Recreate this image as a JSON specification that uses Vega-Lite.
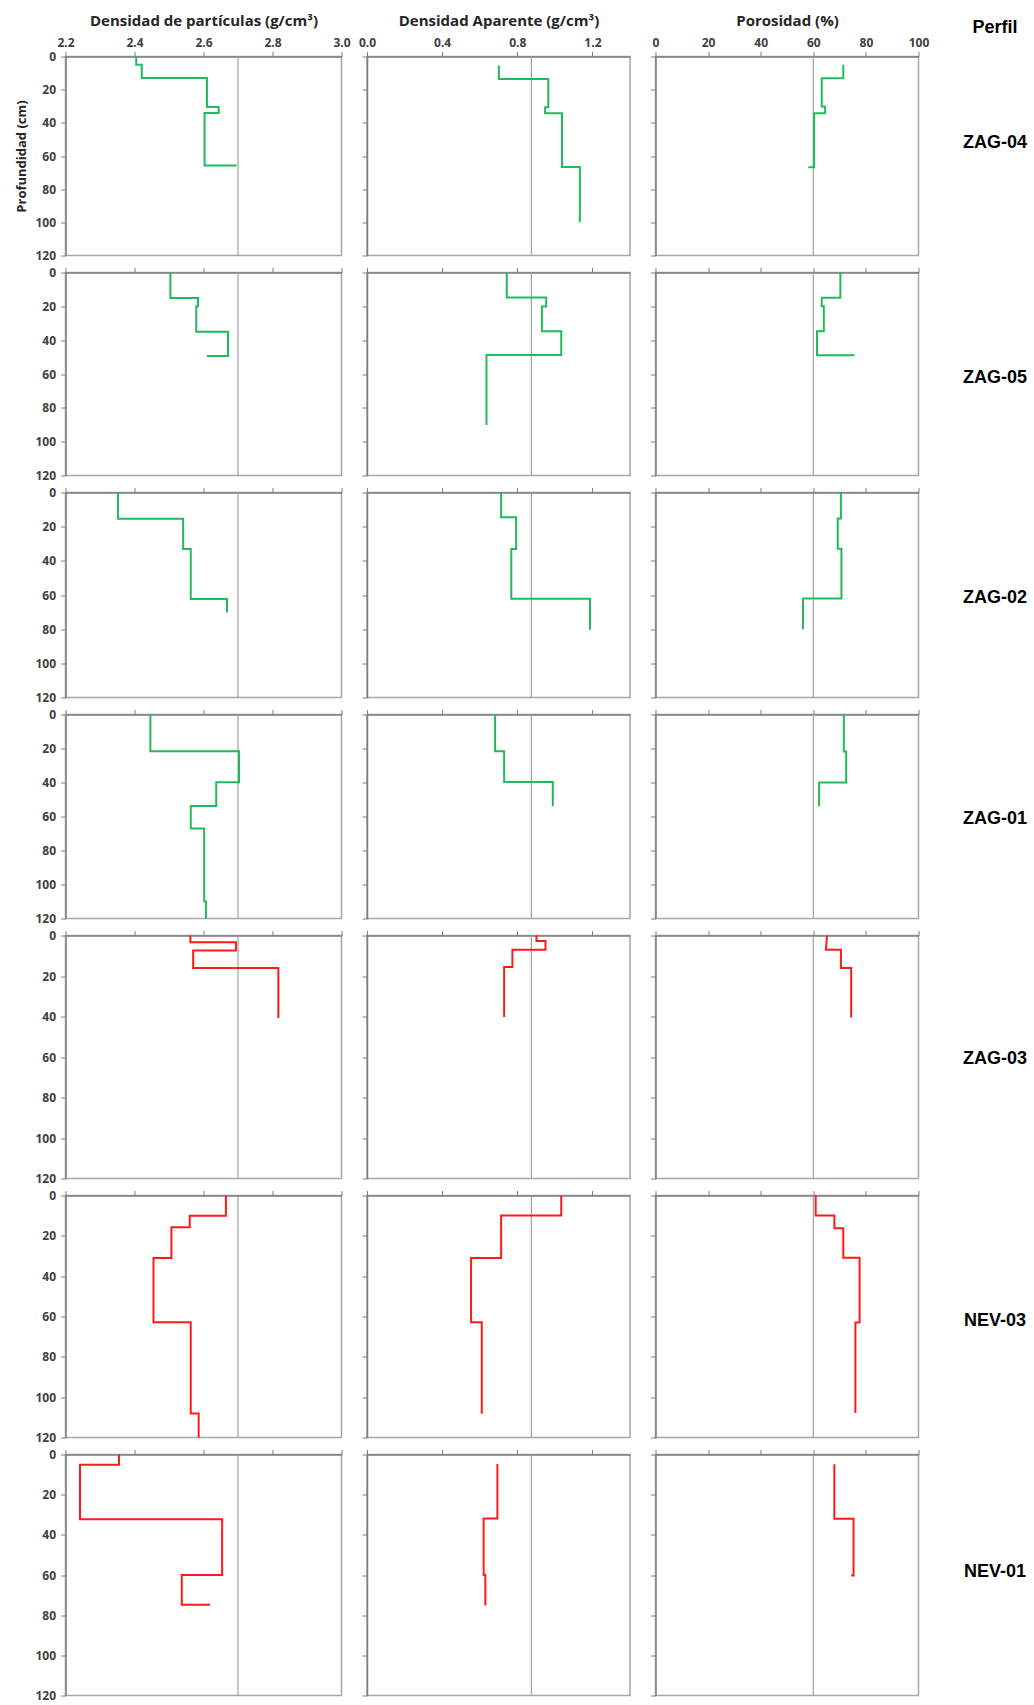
{
  "$schema": "https://vega.github.io/schema/vega-lite/v6.json",
  "padding": {"top": 12.5, "left": 14.5, "right": 0, "bottom": 0},
  "autosize": {"type": "pad"},
  "datasets": {
    "perfiles": [
      {"p":"ZAG-04","v":"dp","i":1,"d":0,"x":2.405},{"p":"ZAG-04","v":"dp","i":2,"d":5,"x":2.405},{"p":"ZAG-04","v":"dp","i":3,"d":5,"x":2.421},{"p":"ZAG-04","v":"dp","i":4,"d":13,"x":2.421},{"p":"ZAG-04","v":"dp","i":5,"d":13,"x":2.61},{"p":"ZAG-04","v":"dp","i":6,"d":30.4,"x":2.61},{"p":"ZAG-04","v":"dp","i":7,"d":30.4,"x":2.644},{"p":"ZAG-04","v":"dp","i":8,"d":34,"x":2.644},{"p":"ZAG-04","v":"dp","i":9,"d":34,"x":2.603},{"p":"ZAG-04","v":"dp","i":10,"d":65.7,"x":2.603},{"p":"ZAG-04","v":"dp","i":11,"d":65.7,"x":2.696},
      {"p":"ZAG-04","v":"da","i":1,"d":5.4,"x":0.702},{"p":"ZAG-04","v":"da","i":2,"d":13.5,"x":0.702},{"p":"ZAG-04","v":"da","i":3,"d":13.5,"x":0.965},{"p":"ZAG-04","v":"da","i":4,"d":30.6,"x":0.965},{"p":"ZAG-04","v":"da","i":5,"d":30.6,"x":0.948},{"p":"ZAG-04","v":"da","i":6,"d":34.2,"x":0.948},{"p":"ZAG-04","v":"da","i":7,"d":34.2,"x":1.038},{"p":"ZAG-04","v":"da","i":8,"d":66.6,"x":1.038},{"p":"ZAG-04","v":"da","i":9,"d":66.6,"x":1.133},{"p":"ZAG-04","v":"da","i":10,"d":100,"x":1.133},
      {"p":"ZAG-04","v":"po","i":1,"d":5,"x":71.4},{"p":"ZAG-04","v":"po","i":2,"d":13.1,"x":71.4},{"p":"ZAG-04","v":"po","i":3,"d":13.1,"x":63.2},{"p":"ZAG-04","v":"po","i":4,"d":30.2,"x":63.2},{"p":"ZAG-04","v":"po","i":5,"d":30.2,"x":64.5},{"p":"ZAG-04","v":"po","i":6,"d":34.2,"x":64.5},{"p":"ZAG-04","v":"po","i":7,"d":34.2,"x":60.3},{"p":"ZAG-04","v":"po","i":8,"d":66.8,"x":60.3},{"p":"ZAG-04","v":"po","i":9,"d":66.8,"x":58.1},
      {"p":"ZAG-05","v":"dp","i":1,"d":0,"x":2.504},{"p":"ZAG-05","v":"dp","i":2,"d":15.1,"x":2.504},{"p":"ZAG-05","v":"dp","i":3,"d":15.1,"x":2.584},{"p":"ZAG-05","v":"dp","i":4,"d":20,"x":2.584},{"p":"ZAG-05","v":"dp","i":5,"d":20,"x":2.579},{"p":"ZAG-05","v":"dp","i":6,"d":35,"x":2.579},{"p":"ZAG-05","v":"dp","i":7,"d":35,"x":2.671},{"p":"ZAG-05","v":"dp","i":8,"d":49.4,"x":2.671},{"p":"ZAG-05","v":"dp","i":9,"d":49.4,"x":2.61},
      {"p":"ZAG-05","v":"da","i":1,"d":0,"x":0.744},{"p":"ZAG-05","v":"da","i":2,"d":14.8,"x":0.744},{"p":"ZAG-05","v":"da","i":3,"d":14.8,"x":0.954},{"p":"ZAG-05","v":"da","i":4,"d":20.1,"x":0.954},{"p":"ZAG-05","v":"da","i":5,"d":20.1,"x":0.931},{"p":"ZAG-05","v":"da","i":6,"d":34.8,"x":0.931},{"p":"ZAG-05","v":"da","i":7,"d":34.8,"x":1.034},{"p":"ZAG-05","v":"da","i":8,"d":48.8,"x":1.034},{"p":"ZAG-05","v":"da","i":9,"d":48.8,"x":0.636},{"p":"ZAG-05","v":"da","i":10,"d":90.2,"x":0.636},
      {"p":"ZAG-05","v":"po","i":1,"d":0,"x":70.3},{"p":"ZAG-05","v":"po","i":2,"d":14.9,"x":70.3},{"p":"ZAG-05","v":"po","i":3,"d":14.9,"x":63.2},{"p":"ZAG-05","v":"po","i":4,"d":19.9,"x":63.2},{"p":"ZAG-05","v":"po","i":5,"d":19.9,"x":64.0},{"p":"ZAG-05","v":"po","i":6,"d":34.8,"x":64.0},{"p":"ZAG-05","v":"po","i":7,"d":34.8,"x":61.4},{"p":"ZAG-05","v":"po","i":8,"d":48.9,"x":61.4},{"p":"ZAG-05","v":"po","i":9,"d":48.9,"x":75.7},
      {"p":"ZAG-02","v":"dp","i":1,"d":0,"x":2.352},{"p":"ZAG-02","v":"dp","i":2,"d":15.4,"x":2.352},{"p":"ZAG-02","v":"dp","i":3,"d":15.4,"x":2.541},{"p":"ZAG-02","v":"dp","i":4,"d":33,"x":2.541},{"p":"ZAG-02","v":"dp","i":5,"d":33,"x":2.563},{"p":"ZAG-02","v":"dp","i":6,"d":62.4,"x":2.563},{"p":"ZAG-02","v":"dp","i":7,"d":62.4,"x":2.668},{"p":"ZAG-02","v":"dp","i":8,"d":70.2,"x":2.668},
      {"p":"ZAG-02","v":"da","i":1,"d":0,"x":0.714},{"p":"ZAG-02","v":"da","i":2,"d":14.5,"x":0.714},{"p":"ZAG-02","v":"da","i":3,"d":14.5,"x":0.794},{"p":"ZAG-02","v":"da","i":4,"d":33,"x":0.794},{"p":"ZAG-02","v":"da","i":5,"d":33,"x":0.768},{"p":"ZAG-02","v":"da","i":6,"d":62.2,"x":0.768},{"p":"ZAG-02","v":"da","i":7,"d":62.2,"x":1.187},{"p":"ZAG-02","v":"da","i":8,"d":80.4,"x":1.187},
      {"p":"ZAG-02","v":"po","i":1,"d":0,"x":70.5},{"p":"ZAG-02","v":"po","i":2,"d":15.2,"x":70.5},{"p":"ZAG-02","v":"po","i":3,"d":15.2,"x":69.3},{"p":"ZAG-02","v":"po","i":4,"d":32.9,"x":69.3},{"p":"ZAG-02","v":"po","i":5,"d":32.9,"x":70.7},{"p":"ZAG-02","v":"po","i":6,"d":62,"x":70.7},{"p":"ZAG-02","v":"po","i":7,"d":62,"x":56.1},{"p":"ZAG-02","v":"po","i":8,"d":80.1,"x":56.1},
      {"p":"ZAG-01","v":"dp","i":1,"d":0,"x":2.446},{"p":"ZAG-01","v":"dp","i":2,"d":21.6,"x":2.446},{"p":"ZAG-01","v":"dp","i":3,"d":21.6,"x":2.703},{"p":"ZAG-01","v":"dp","i":4,"d":39.9,"x":2.703},{"p":"ZAG-01","v":"dp","i":5,"d":39.9,"x":2.637},{"p":"ZAG-01","v":"dp","i":6,"d":53.8,"x":2.637},{"p":"ZAG-01","v":"dp","i":7,"d":53.8,"x":2.563},{"p":"ZAG-01","v":"dp","i":8,"d":67,"x":2.563},{"p":"ZAG-01","v":"dp","i":9,"d":67,"x":2.602},{"p":"ZAG-01","v":"dp","i":10,"d":110,"x":2.602},{"p":"ZAG-01","v":"dp","i":11,"d":110,"x":2.607},{"p":"ZAG-01","v":"dp","i":12,"d":120,"x":2.607},
      {"p":"ZAG-01","v":"da","i":1,"d":0,"x":0.682},{"p":"ZAG-01","v":"da","i":2,"d":21.6,"x":0.682},{"p":"ZAG-01","v":"da","i":3,"d":21.6,"x":0.73},{"p":"ZAG-01","v":"da","i":4,"d":39.7,"x":0.73},{"p":"ZAG-01","v":"da","i":5,"d":39.7,"x":0.989},{"p":"ZAG-01","v":"da","i":6,"d":54,"x":0.989},
      {"p":"ZAG-01","v":"po","i":1,"d":0,"x":71.6},{"p":"ZAG-01","v":"po","i":2,"d":21.7,"x":71.6},{"p":"ZAG-01","v":"po","i":3,"d":21.7,"x":72.5},{"p":"ZAG-01","v":"po","i":4,"d":40,"x":72.5},{"p":"ZAG-01","v":"po","i":5,"d":40,"x":62.2},{"p":"ZAG-01","v":"po","i":6,"d":54,"x":62.2},
      {"p":"ZAG-03","v":"dp","i":1,"d":0,"x":2.562},{"p":"ZAG-03","v":"dp","i":2,"d":3.3,"x":2.562},{"p":"ZAG-03","v":"dp","i":3,"d":3.3,"x":2.694},{"p":"ZAG-03","v":"dp","i":4,"d":7.4,"x":2.694},{"p":"ZAG-03","v":"dp","i":5,"d":7.4,"x":2.57},{"p":"ZAG-03","v":"dp","i":6,"d":16.1,"x":2.57},{"p":"ZAG-03","v":"dp","i":7,"d":16.1,"x":2.817},{"p":"ZAG-03","v":"dp","i":8,"d":40.7,"x":2.817},
      {"p":"ZAG-03","v":"da","i":1,"d":0,"x":0.902},{"p":"ZAG-03","v":"da","i":2,"d":2.7,"x":0.902},{"p":"ZAG-03","v":"da","i":3,"d":2.7,"x":0.95},{"p":"ZAG-03","v":"da","i":4,"d":7,"x":0.95},{"p":"ZAG-03","v":"da","i":5,"d":7,"x":0.774},{"p":"ZAG-03","v":"da","i":6,"d":15.6,"x":0.774},{"p":"ZAG-03","v":"da","i":7,"d":15.6,"x":0.73},{"p":"ZAG-03","v":"da","i":8,"d":40.2,"x":0.73},
      {"p":"ZAG-03","v":"po","i":1,"d":0,"x":65.2},{"p":"ZAG-03","v":"po","i":2,"d":7,"x":64.8},{"p":"ZAG-03","v":"po","i":3,"d":7,"x":70.5},{"p":"ZAG-03","v":"po","i":4,"d":16.1,"x":70.5},{"p":"ZAG-03","v":"po","i":5,"d":16.1,"x":74.4},{"p":"ZAG-03","v":"po","i":6,"d":40.5,"x":74.4},
      {"p":"NEV-03","v":"dp","i":1,"d":0,"x":2.665},{"p":"NEV-03","v":"dp","i":2,"d":10,"x":2.665},{"p":"NEV-03","v":"dp","i":3,"d":10,"x":2.56},{"p":"NEV-03","v":"dp","i":4,"d":15.8,"x":2.56},{"p":"NEV-03","v":"dp","i":5,"d":15.8,"x":2.507},{"p":"NEV-03","v":"dp","i":6,"d":31,"x":2.507},{"p":"NEV-03","v":"dp","i":7,"d":31,"x":2.455},{"p":"NEV-03","v":"dp","i":8,"d":62.8,"x":2.455},{"p":"NEV-03","v":"dp","i":9,"d":62.8,"x":2.563},{"p":"NEV-03","v":"dp","i":10,"d":108.1,"x":2.563},{"p":"NEV-03","v":"dp","i":11,"d":108.1,"x":2.586},{"p":"NEV-03","v":"dp","i":12,"d":120,"x":2.586},
      {"p":"NEV-03","v":"da","i":1,"d":0,"x":1.034},{"p":"NEV-03","v":"da","i":2,"d":9.9,"x":1.034},{"p":"NEV-03","v":"da","i":3,"d":9.9,"x":0.714},{"p":"NEV-03","v":"da","i":4,"d":31,"x":0.714},{"p":"NEV-03","v":"da","i":5,"d":31,"x":0.554},{"p":"NEV-03","v":"da","i":6,"d":62.9,"x":0.554},{"p":"NEV-03","v":"da","i":7,"d":62.9,"x":0.611},{"p":"NEV-03","v":"da","i":8,"d":108.2,"x":0.611},
      {"p":"NEV-03","v":"po","i":1,"d":0,"x":60.9},{"p":"NEV-03","v":"po","i":2,"d":9.9,"x":60.9},{"p":"NEV-03","v":"po","i":3,"d":9.9,"x":68},{"p":"NEV-03","v":"po","i":4,"d":16.2,"x":68},{"p":"NEV-03","v":"po","i":5,"d":16.2,"x":71.4},{"p":"NEV-03","v":"po","i":6,"d":30.9,"x":71.4},{"p":"NEV-03","v":"po","i":7,"d":30.9,"x":77.6},{"p":"NEV-03","v":"po","i":8,"d":63,"x":77.6},{"p":"NEV-03","v":"po","i":9,"d":63,"x":76},{"p":"NEV-03","v":"po","i":10,"d":107.9,"x":76},
      {"p":"NEV-01","v":"dp","i":1,"d":0,"x":2.355},{"p":"NEV-01","v":"dp","i":2,"d":5.1,"x":2.355},{"p":"NEV-01","v":"dp","i":3,"d":5.1,"x":2.242},{"p":"NEV-01","v":"dp","i":4,"d":32.2,"x":2.242},{"p":"NEV-01","v":"dp","i":5,"d":32.2,"x":2.654},{"p":"NEV-01","v":"dp","i":6,"d":60,"x":2.654},{"p":"NEV-01","v":"dp","i":7,"d":60,"x":2.537},{"p":"NEV-01","v":"dp","i":8,"d":74.8,"x":2.537},{"p":"NEV-01","v":"dp","i":9,"d":74.8,"x":2.619},
      {"p":"NEV-01","v":"da","i":1,"d":4.7,"x":0.694},{"p":"NEV-01","v":"da","i":2,"d":31.9,"x":0.694},{"p":"NEV-01","v":"da","i":3,"d":31.9,"x":0.621},{"p":"NEV-01","v":"da","i":4,"d":60,"x":0.621},{"p":"NEV-01","v":"da","i":5,"d":60,"x":0.63},{"p":"NEV-01","v":"da","i":6,"d":75.2,"x":0.63},
      {"p":"NEV-01","v":"po","i":1,"d":4.8,"x":68},{"p":"NEV-01","v":"po","i":2,"d":32,"x":68},{"p":"NEV-01","v":"po","i":3,"d":32,"x":75.3},{"p":"NEV-01","v":"po","i":4,"d":60.3,"x":75.3},{"p":"NEV-01","v":"po","i":5,"d":60.3,"x":74.4}
    ]
  },
  "columns": 4,
  "bounds": "flush",
  "align": "each",
  "spacing": {"row": 17, "column": 25.5},
  "concat": [
    {"width": 276, "height": 199, "layer": [
      {"data": {"values": [{}]}, "mark": {"type": "rule", "color": "#a0a0a0", "strokeWidth": 1.2}, "encoding": {"x": {"datum": 2.7}}},
      {"data": {"name": "perfiles"}, "transform": [{"filter": "datum.p == 'ZAG-04' && datum.v == 'dp'"}], "mark": {"type": "line", "color": "#20bb5a"},
       "encoding": {"x": {"field": "x", "type": "quantitative", "scale": {"domain": [2.2, 3.0], "nice": false, "zero": false}, "axis": {"orient": "top", "title": "Densidad de partículas (g/cm³)", "values": [2.2, 2.4, 2.6, 2.8, 3.0], "format": ".1f"}},
                    "y": {"field": "d", "type": "quantitative", "scale": {"domain": [0, 120], "nice": false, "reverse": true}, "axis": {"title": "Profundidad (cm)", "labelOverlap": false, "values": [0, 20, 40, 60, 80, 100, 120]}},
                    "order": {"field": "i"}}}]},
    {"width": 263, "height": 199, "layer": [
      {"data": {"values": [{}]}, "mark": {"type": "rule", "color": "#a0a0a0", "strokeWidth": 1.2}, "encoding": {"x": {"datum": 0.875}}},
      {"data": {"name": "perfiles"}, "transform": [{"filter": "datum.p == 'ZAG-04' && datum.v == 'da'"}], "mark": {"type": "line", "color": "#20bb5a"},
       "encoding": {"x": {"field": "x", "type": "quantitative", "scale": {"domain": [0, 1.4], "nice": false}, "axis": {"orient": "top", "title": "Densidad Aparente (g/cm³)", "values": [0, 0.4, 0.8, 1.2], "format": ".1f"}},
                    "y": {"field": "d", "type": "quantitative", "scale": {"domain": [0, 120], "nice": false, "reverse": true}, "axis": {"title": null, "labels": false, "values": [0, 20, 40, 60, 80, 100, 120], "minExtent": 0}},
                    "order": {"field": "i"}}}]},
    {"width": 263, "height": 199, "layer": [
      {"data": {"values": [{}]}, "mark": {"type": "rule", "color": "#a0a0a0", "strokeWidth": 1.2}, "encoding": {"x": {"datum": 60}}},
      {"data": {"name": "perfiles"}, "transform": [{"filter": "datum.p == 'ZAG-04' && datum.v == 'po'"}], "mark": {"type": "line", "color": "#20bb5a"},
       "encoding": {"x": {"field": "x", "type": "quantitative", "scale": {"domain": [0, 100], "nice": false}, "axis": {"orient": "top", "title": "Porosidad (%)", "values": [0, 20, 40, 60, 80, 100]}},
                    "y": {"field": "d", "type": "quantitative", "scale": {"domain": [0, 120], "nice": false, "reverse": true}, "axis": {"title": null, "labels": false, "values": [0, 20, 40, 60, 80, 100, 120], "minExtent": 0}},
                    "order": {"field": "i"}}}]},
    {"width": 88, "height": 199, "view": {"stroke": null},
     "title": {"text": "Perfil", "font": "Liberation Sans", "fontSize": 18, "fontWeight": "bold", "color": "#000000", "offset": 20, "dx": 7},
     "data": {"values": [{"perfil": "ZAG-04"}]}, "mark": {"type": "text", "font": "Liberation Sans", "fontSize": 18, "fontWeight": "bold", "color": "#000000", "dx": 7, "dy": -13}, "encoding": {"text": {"field": "perfil"}}},

    {"width": 276, "height": 203, "layer": [
      {"data": {"values": [{}]}, "mark": {"type": "rule", "color": "#a0a0a0", "strokeWidth": 1.2}, "encoding": {"x": {"datum": 2.7}}},
      {"data": {"name": "perfiles"}, "transform": [{"filter": "datum.p == 'ZAG-05' && datum.v == 'dp'"}], "mark": {"type": "line", "color": "#20bb5a"},
       "encoding": {"x": {"field": "x", "type": "quantitative", "scale": {"domain": [2.2, 3.0], "nice": false, "zero": false}, "axis": {"orient": "top", "title": null, "labels": false, "values": [2.2, 2.4, 2.6, 2.8, 3.0]}},
                    "y": {"field": "d", "type": "quantitative", "scale": {"domain": [0, 120], "nice": false, "reverse": true}, "axis": {"title": null, "labelOverlap": false, "values": [0, 20, 40, 60, 80, 100, 120]}},
                    "order": {"field": "i"}}}]},
    {"width": 263, "height": 203, "layer": [
      {"data": {"values": [{}]}, "mark": {"type": "rule", "color": "#a0a0a0", "strokeWidth": 1.2}, "encoding": {"x": {"datum": 0.875}}},
      {"data": {"name": "perfiles"}, "transform": [{"filter": "datum.p == 'ZAG-05' && datum.v == 'da'"}], "mark": {"type": "line", "color": "#20bb5a"},
       "encoding": {"x": {"field": "x", "type": "quantitative", "scale": {"domain": [0, 1.4], "nice": false}, "axis": {"orient": "top", "title": null, "labels": false, "values": [0, 0.4, 0.8, 1.2]}},
                    "y": {"field": "d", "type": "quantitative", "scale": {"domain": [0, 120], "nice": false, "reverse": true}, "axis": {"title": null, "labels": false, "values": [0, 20, 40, 60, 80, 100, 120], "minExtent": 0}},
                    "order": {"field": "i"}}}]},
    {"width": 263, "height": 203, "layer": [
      {"data": {"values": [{}]}, "mark": {"type": "rule", "color": "#a0a0a0", "strokeWidth": 1.2}, "encoding": {"x": {"datum": 60}}},
      {"data": {"name": "perfiles"}, "transform": [{"filter": "datum.p == 'ZAG-05' && datum.v == 'po'"}], "mark": {"type": "line", "color": "#20bb5a"},
       "encoding": {"x": {"field": "x", "type": "quantitative", "scale": {"domain": [0, 100], "nice": false}, "axis": {"orient": "top", "title": null, "labels": false, "values": [0, 20, 40, 60, 80, 100]}},
                    "y": {"field": "d", "type": "quantitative", "scale": {"domain": [0, 120], "nice": false, "reverse": true}, "axis": {"title": null, "labels": false, "values": [0, 20, 40, 60, 80, 100, 120], "minExtent": 0}},
                    "order": {"field": "i"}}}]},
    {"width": 88, "height": 203, "view": {"stroke": null},
     "data": {"values": [{"perfil": "ZAG-05"}]}, "mark": {"type": "text", "font": "Liberation Sans", "fontSize": 18, "fontWeight": "bold", "color": "#000000", "dx": 7, "dy": 4}, "encoding": {"text": {"field": "perfil"}}},

    {"width": 276, "height": 205, "layer": [
      {"data": {"values": [{}]}, "mark": {"type": "rule", "color": "#a0a0a0", "strokeWidth": 1.2}, "encoding": {"x": {"datum": 2.7}}},
      {"data": {"name": "perfiles"}, "transform": [{"filter": "datum.p == 'ZAG-02' && datum.v == 'dp'"}], "mark": {"type": "line", "color": "#20bb5a"},
       "encoding": {"x": {"field": "x", "type": "quantitative", "scale": {"domain": [2.2, 3.0], "nice": false, "zero": false}, "axis": {"orient": "top", "title": null, "labels": false, "values": [2.2, 2.4, 2.6, 2.8, 3.0]}},
                    "y": {"field": "d", "type": "quantitative", "scale": {"domain": [0, 120], "nice": false, "reverse": true}, "axis": {"title": null, "labelOverlap": false, "values": [0, 20, 40, 60, 80, 100, 120]}},
                    "order": {"field": "i"}}}]},
    {"width": 263, "height": 205, "layer": [
      {"data": {"values": [{}]}, "mark": {"type": "rule", "color": "#a0a0a0", "strokeWidth": 1.2}, "encoding": {"x": {"datum": 0.875}}},
      {"data": {"name": "perfiles"}, "transform": [{"filter": "datum.p == 'ZAG-02' && datum.v == 'da'"}], "mark": {"type": "line", "color": "#20bb5a"},
       "encoding": {"x": {"field": "x", "type": "quantitative", "scale": {"domain": [0, 1.4], "nice": false}, "axis": {"orient": "top", "title": null, "labels": false, "values": [0, 0.4, 0.8, 1.2]}},
                    "y": {"field": "d", "type": "quantitative", "scale": {"domain": [0, 120], "nice": false, "reverse": true}, "axis": {"title": null, "labels": false, "values": [0, 20, 40, 60, 80, 100, 120], "minExtent": 0}},
                    "order": {"field": "i"}}}]},
    {"width": 263, "height": 205, "layer": [
      {"data": {"values": [{}]}, "mark": {"type": "rule", "color": "#a0a0a0", "strokeWidth": 1.2}, "encoding": {"x": {"datum": 60}}},
      {"data": {"name": "perfiles"}, "transform": [{"filter": "datum.p == 'ZAG-02' && datum.v == 'po'"}], "mark": {"type": "line", "color": "#20bb5a"},
       "encoding": {"x": {"field": "x", "type": "quantitative", "scale": {"domain": [0, 100], "nice": false}, "axis": {"orient": "top", "title": null, "labels": false, "values": [0, 20, 40, 60, 80, 100]}},
                    "y": {"field": "d", "type": "quantitative", "scale": {"domain": [0, 120], "nice": false, "reverse": true}, "axis": {"title": null, "labels": false, "values": [0, 20, 40, 60, 80, 100, 120], "minExtent": 0}},
                    "order": {"field": "i"}}}]},
    {"width": 88, "height": 205, "view": {"stroke": null},
     "data": {"values": [{"perfil": "ZAG-02"}]}, "mark": {"type": "text", "font": "Liberation Sans", "fontSize": 18, "fontWeight": "bold", "color": "#000000", "dx": 7, "dy": 3}, "encoding": {"text": {"field": "perfil"}}},

    {"width": 276, "height": 204, "layer": [
      {"data": {"values": [{}]}, "mark": {"type": "rule", "color": "#a0a0a0", "strokeWidth": 1.2}, "encoding": {"x": {"datum": 2.7}}},
      {"data": {"name": "perfiles"}, "transform": [{"filter": "datum.p == 'ZAG-01' && datum.v == 'dp'"}], "mark": {"type": "line", "color": "#20bb5a"},
       "encoding": {"x": {"field": "x", "type": "quantitative", "scale": {"domain": [2.2, 3.0], "nice": false, "zero": false}, "axis": {"orient": "top", "title": null, "labels": false, "values": [2.2, 2.4, 2.6, 2.8, 3.0]}},
                    "y": {"field": "d", "type": "quantitative", "scale": {"domain": [0, 120], "nice": false, "reverse": true}, "axis": {"title": null, "labelOverlap": false, "values": [0, 20, 40, 60, 80, 100, 120]}},
                    "order": {"field": "i"}}}]},
    {"width": 263, "height": 204, "layer": [
      {"data": {"values": [{}]}, "mark": {"type": "rule", "color": "#a0a0a0", "strokeWidth": 1.2}, "encoding": {"x": {"datum": 0.875}}},
      {"data": {"name": "perfiles"}, "transform": [{"filter": "datum.p == 'ZAG-01' && datum.v == 'da'"}], "mark": {"type": "line", "color": "#20bb5a"},
       "encoding": {"x": {"field": "x", "type": "quantitative", "scale": {"domain": [0, 1.4], "nice": false}, "axis": {"orient": "top", "title": null, "labels": false, "values": [0, 0.4, 0.8, 1.2]}},
                    "y": {"field": "d", "type": "quantitative", "scale": {"domain": [0, 120], "nice": false, "reverse": true}, "axis": {"title": null, "labels": false, "values": [0, 20, 40, 60, 80, 100, 120], "minExtent": 0}},
                    "order": {"field": "i"}}}]},
    {"width": 263, "height": 204, "layer": [
      {"data": {"values": [{}]}, "mark": {"type": "rule", "color": "#a0a0a0", "strokeWidth": 1.2}, "encoding": {"x": {"datum": 60}}},
      {"data": {"name": "perfiles"}, "transform": [{"filter": "datum.p == 'ZAG-01' && datum.v == 'po'"}], "mark": {"type": "line", "color": "#20bb5a"},
       "encoding": {"x": {"field": "x", "type": "quantitative", "scale": {"domain": [0, 100], "nice": false}, "axis": {"orient": "top", "title": null, "labels": false, "values": [0, 20, 40, 60, 80, 100]}},
                    "y": {"field": "d", "type": "quantitative", "scale": {"domain": [0, 120], "nice": false, "reverse": true}, "axis": {"title": null, "labels": false, "values": [0, 20, 40, 60, 80, 100, 120], "minExtent": 0}},
                    "order": {"field": "i"}}}]},
    {"width": 88, "height": 204, "view": {"stroke": null},
     "data": {"values": [{"perfil": "ZAG-01"}]}, "mark": {"type": "text", "font": "Liberation Sans", "fontSize": 18, "fontWeight": "bold", "color": "#000000", "dx": 7, "dy": 2}, "encoding": {"text": {"field": "perfil"}}},

    {"width": 276, "height": 243, "layer": [
      {"data": {"values": [{}]}, "mark": {"type": "rule", "color": "#a0a0a0", "strokeWidth": 1.2}, "encoding": {"x": {"datum": 2.7}}},
      {"data": {"name": "perfiles"}, "transform": [{"filter": "datum.p == 'ZAG-03' && datum.v == 'dp'"}], "mark": {"type": "line", "color": "#ff1a1a"},
       "encoding": {"x": {"field": "x", "type": "quantitative", "scale": {"domain": [2.2, 3.0], "nice": false, "zero": false}, "axis": {"orient": "top", "title": null, "labels": false, "values": [2.2, 2.4, 2.6, 2.8, 3.0]}},
                    "y": {"field": "d", "type": "quantitative", "scale": {"domain": [0, 120], "nice": false, "reverse": true}, "axis": {"title": null, "labelOverlap": false, "values": [0, 20, 40, 60, 80, 100, 120]}},
                    "order": {"field": "i"}}}]},
    {"width": 263, "height": 243, "layer": [
      {"data": {"values": [{}]}, "mark": {"type": "rule", "color": "#a0a0a0", "strokeWidth": 1.2}, "encoding": {"x": {"datum": 0.875}}},
      {"data": {"name": "perfiles"}, "transform": [{"filter": "datum.p == 'ZAG-03' && datum.v == 'da'"}], "mark": {"type": "line", "color": "#ff1a1a"},
       "encoding": {"x": {"field": "x", "type": "quantitative", "scale": {"domain": [0, 1.4], "nice": false}, "axis": {"orient": "top", "title": null, "labels": false, "values": [0, 0.4, 0.8, 1.2]}},
                    "y": {"field": "d", "type": "quantitative", "scale": {"domain": [0, 120], "nice": false, "reverse": true}, "axis": {"title": null, "labels": false, "values": [0, 20, 40, 60, 80, 100, 120], "minExtent": 0}},
                    "order": {"field": "i"}}}]},
    {"width": 263, "height": 243, "layer": [
      {"data": {"values": [{}]}, "mark": {"type": "rule", "color": "#a0a0a0", "strokeWidth": 1.2}, "encoding": {"x": {"datum": 60}}},
      {"data": {"name": "perfiles"}, "transform": [{"filter": "datum.p == 'ZAG-03' && datum.v == 'po'"}], "mark": {"type": "line", "color": "#ff1a1a"},
       "encoding": {"x": {"field": "x", "type": "quantitative", "scale": {"domain": [0, 100], "nice": false}, "axis": {"orient": "top", "title": null, "labels": false, "values": [0, 20, 40, 60, 80, 100]}},
                    "y": {"field": "d", "type": "quantitative", "scale": {"domain": [0, 120], "nice": false, "reverse": true}, "axis": {"title": null, "labels": false, "values": [0, 20, 40, 60, 80, 100, 120], "minExtent": 0}},
                    "order": {"field": "i"}}}]},
    {"width": 88, "height": 243, "view": {"stroke": null},
     "data": {"values": [{"perfil": "ZAG-03"}]}, "mark": {"type": "text", "font": "Liberation Sans", "fontSize": 18, "fontWeight": "bold", "color": "#000000", "dx": 7, "dy": 2}, "encoding": {"text": {"field": "perfil"}}},

    {"width": 276, "height": 242, "layer": [
      {"data": {"values": [{}]}, "mark": {"type": "rule", "color": "#a0a0a0", "strokeWidth": 1.2}, "encoding": {"x": {"datum": 2.7}}},
      {"data": {"name": "perfiles"}, "transform": [{"filter": "datum.p == 'NEV-03' && datum.v == 'dp'"}], "mark": {"type": "line", "color": "#ff1a1a"},
       "encoding": {"x": {"field": "x", "type": "quantitative", "scale": {"domain": [2.2, 3.0], "nice": false, "zero": false}, "axis": {"orient": "top", "title": null, "labels": false, "values": [2.2, 2.4, 2.6, 2.8, 3.0]}},
                    "y": {"field": "d", "type": "quantitative", "scale": {"domain": [0, 120], "nice": false, "reverse": true}, "axis": {"title": null, "labelOverlap": false, "values": [0, 20, 40, 60, 80, 100, 120]}},
                    "order": {"field": "i"}}}]},
    {"width": 263, "height": 242, "layer": [
      {"data": {"values": [{}]}, "mark": {"type": "rule", "color": "#a0a0a0", "strokeWidth": 1.2}, "encoding": {"x": {"datum": 0.875}}},
      {"data": {"name": "perfiles"}, "transform": [{"filter": "datum.p == 'NEV-03' && datum.v == 'da'"}], "mark": {"type": "line", "color": "#ff1a1a"},
       "encoding": {"x": {"field": "x", "type": "quantitative", "scale": {"domain": [0, 1.4], "nice": false}, "axis": {"orient": "top", "title": null, "labels": false, "values": [0, 0.4, 0.8, 1.2]}},
                    "y": {"field": "d", "type": "quantitative", "scale": {"domain": [0, 120], "nice": false, "reverse": true}, "axis": {"title": null, "labels": false, "values": [0, 20, 40, 60, 80, 100, 120], "minExtent": 0}},
                    "order": {"field": "i"}}}]},
    {"width": 263, "height": 242, "layer": [
      {"data": {"values": [{}]}, "mark": {"type": "rule", "color": "#a0a0a0", "strokeWidth": 1.2}, "encoding": {"x": {"datum": 60}}},
      {"data": {"name": "perfiles"}, "transform": [{"filter": "datum.p == 'NEV-03' && datum.v == 'po'"}], "mark": {"type": "line", "color": "#ff1a1a"},
       "encoding": {"x": {"field": "x", "type": "quantitative", "scale": {"domain": [0, 100], "nice": false}, "axis": {"orient": "top", "title": null, "labels": false, "values": [0, 20, 40, 60, 80, 100]}},
                    "y": {"field": "d", "type": "quantitative", "scale": {"domain": [0, 120], "nice": false, "reverse": true}, "axis": {"title": null, "labels": false, "values": [0, 20, 40, 60, 80, 100, 120], "minExtent": 0}},
                    "order": {"field": "i"}}}]},
    {"width": 88, "height": 242, "view": {"stroke": null},
     "data": {"values": [{"perfil": "NEV-03"}]}, "mark": {"type": "text", "font": "Liberation Sans", "fontSize": 18, "fontWeight": "bold", "color": "#000000", "dx": 7, "dy": 4}, "encoding": {"text": {"field": "perfil"}}},

    {"width": 276, "height": 241, "layer": [
      {"data": {"values": [{}]}, "mark": {"type": "rule", "color": "#a0a0a0", "strokeWidth": 1.2}, "encoding": {"x": {"datum": 2.7}}},
      {"data": {"name": "perfiles"}, "transform": [{"filter": "datum.p == 'NEV-01' && datum.v == 'dp'"}], "mark": {"type": "line", "color": "#ff1a1a"},
       "encoding": {"x": {"field": "x", "type": "quantitative", "scale": {"domain": [2.2, 3.0], "nice": false, "zero": false}, "axis": {"orient": "top", "title": null, "labels": false, "values": [2.2, 2.4, 2.6, 2.8, 3.0]}},
                    "y": {"field": "d", "type": "quantitative", "scale": {"domain": [0, 120], "nice": false, "reverse": true}, "axis": {"title": null, "labelOverlap": false, "values": [0, 20, 40, 60, 80, 100, 120]}},
                    "order": {"field": "i"}}}]},
    {"width": 263, "height": 241, "layer": [
      {"data": {"values": [{}]}, "mark": {"type": "rule", "color": "#a0a0a0", "strokeWidth": 1.2}, "encoding": {"x": {"datum": 0.875}}},
      {"data": {"name": "perfiles"}, "transform": [{"filter": "datum.p == 'NEV-01' && datum.v == 'da'"}], "mark": {"type": "line", "color": "#ff1a1a"},
       "encoding": {"x": {"field": "x", "type": "quantitative", "scale": {"domain": [0, 1.4], "nice": false}, "axis": {"orient": "top", "title": null, "labels": false, "values": [0, 0.4, 0.8, 1.2]}},
                    "y": {"field": "d", "type": "quantitative", "scale": {"domain": [0, 120], "nice": false, "reverse": true}, "axis": {"title": null, "labels": false, "values": [0, 20, 40, 60, 80, 100, 120], "minExtent": 0}},
                    "order": {"field": "i"}}}]},
    {"width": 263, "height": 241, "layer": [
      {"data": {"values": [{}]}, "mark": {"type": "rule", "color": "#a0a0a0", "strokeWidth": 1.2}, "encoding": {"x": {"datum": 60}}},
      {"data": {"name": "perfiles"}, "transform": [{"filter": "datum.p == 'NEV-01' && datum.v == 'po'"}], "mark": {"type": "line", "color": "#ff1a1a"},
       "encoding": {"x": {"field": "x", "type": "quantitative", "scale": {"domain": [0, 100], "nice": false}, "axis": {"orient": "top", "title": null, "labels": false, "values": [0, 20, 40, 60, 80, 100]}},
                    "y": {"field": "d", "type": "quantitative", "scale": {"domain": [0, 120], "nice": false, "reverse": true}, "axis": {"title": null, "labels": false, "values": [0, 20, 40, 60, 80, 100, 120], "minExtent": 0}},
                    "order": {"field": "i"}}}]},
    {"width": 88, "height": 241, "view": {"stroke": null},
     "data": {"values": [{"perfil": "NEV-01"}]}, "mark": {"type": "text", "font": "Liberation Sans", "fontSize": 18, "fontWeight": "bold", "color": "#000000", "dx": 7, "dy": -3}, "encoding": {"text": {"field": "perfil"}}}
  ],
  "config": {
    "font": "Open Sans",
    "view": {"stroke": "#a6a6a6", "strokeWidth": 1.5},
    "line": {"strokeWidth": 2},
    "axis": {"grid": false, "domainColor": "#7f7f7f", "domainWidth": 1.5, "tickColor": "#7f7f7f", "tickSize": 5, "tickWidth": 1,
             "labelFont": "Open Sans", "labelFontSize": 12, "labelFontWeight": "bold", "labelColor": "#404040", "labelFlush": false, "labelOverlap": false,
             "titleFont": "Open Sans", "titleFontWeight": "bold", "titleColor": "#262626"},
    "axisX": {"labelPadding": 2, "titleFontSize": 15, "titlePadding": 8},
    "axisY": {"labelPadding": 5, "titleFontSize": 13, "titlePadding": 6}
  }
}
